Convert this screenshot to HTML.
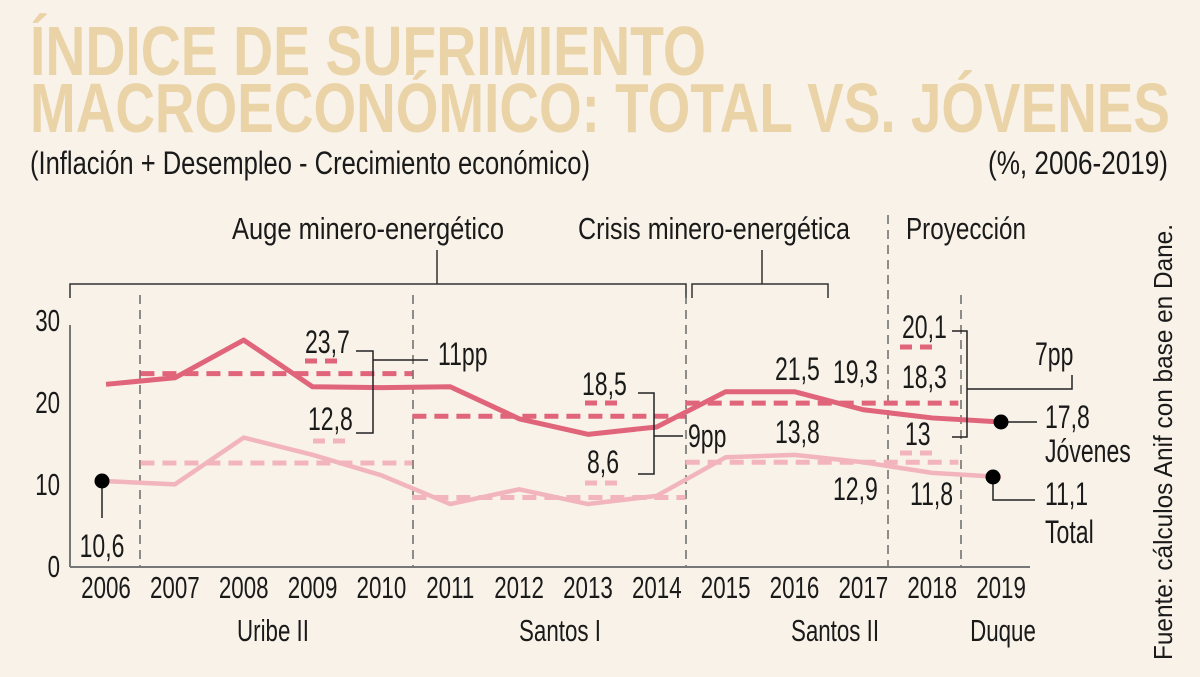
<!DOCTYPE html>
<html><head><meta charset="utf-8"><style>
html,body{margin:0;padding:0;background:#f8f2e8;}
svg{display:block;}
text{font-family:"Liberation Sans Narrow","Liberation Sans",sans-serif;fill:#1a1a1a;}
.t{font-weight:bold;fill:#ebd3a8;font-size:70px;}
</style></head><body>
<svg id="chart" width="1200" height="677" viewBox="0 0 1200 677">
<rect width="1200" height="677" fill="#f8f2e8"/>
<text class="t" x="30" y="75" textLength="676" lengthAdjust="spacingAndGlyphs">ÍNDICE DE SUFRIMIENTO</text>
<text class="t" x="30" y="132" textLength="1140" lengthAdjust="spacingAndGlyphs">MACROECONÓMICO: TOTAL VS. JÓVENES</text>
<text x="30" y="174" font-size="32" textLength="560" lengthAdjust="spacingAndGlyphs">(Inflación + Desempleo - Crecimiento económico)</text>
<text x="1168" y="174" font-size="32" text-anchor="end" textLength="180" lengthAdjust="spacingAndGlyphs">(%, 2006-2019)</text>
<text transform="translate(1172,660) rotate(-90)" font-size="26" textLength="436" lengthAdjust="spacingAndGlyphs">Fuente: cálculos Anif con base en Dane.</text>

<g stroke="#333" stroke-width="1.5" fill="none">
<path d="M70,298 V284 H686 V298 M437,284 V250"/>
<path d="M692,298 V284 H828 V298 M762,284 V250"/>
</g>
<text x="368" y="239" font-size="31" text-anchor="middle" textLength="272" lengthAdjust="spacingAndGlyphs">Auge minero-energético</text>
<text x="714" y="239" font-size="31" text-anchor="middle" textLength="272" lengthAdjust="spacingAndGlyphs">Crisis minero-energética</text>
<text x="966" y="239" font-size="31" text-anchor="middle" textLength="120" lengthAdjust="spacingAndGlyphs">Proyección</text>

<g stroke="#555" stroke-width="1.3" stroke-dasharray="9 6">
<line x1="140" y1="295" x2="140" y2="567"/>
<line x1="413" y1="295" x2="413" y2="567"/>
<line x1="686" y1="295" x2="686" y2="567"/>
<line x1="888" y1="215" x2="888" y2="567"/>
<line x1="961" y1="295" x2="961" y2="567"/>
</g>
<g stroke="#777" stroke-width="2" fill="none">
<line x1="70" y1="325" x2="70" y2="567"/>
<line x1="70" y1="567" x2="1030" y2="567"/>
</g>
<g id="yticks" font-size="31"></g>
<g id="xticks" font-size="31"></g>
<g id="avgs"></g>
<g id="lines"></g>

<g font-size="32">
<line x1="305" y1="361" x2="340" y2="361" stroke="#e0647a" stroke-width="5" stroke-dasharray="12 8"/>
<line x1="313" y1="441" x2="348" y2="441" stroke="#f2b5bd" stroke-width="5" stroke-dasharray="12 8"/>
<line x1="585" y1="403" x2="620" y2="403" stroke="#e0647a" stroke-width="5" stroke-dasharray="12 8"/>
<line x1="585" y1="483" x2="620" y2="483" stroke="#f2b5bd" stroke-width="5" stroke-dasharray="12 8"/>
<line x1="900" y1="347" x2="935" y2="347" stroke="#e0647a" stroke-width="5" stroke-dasharray="12 8"/>
<line x1="900" y1="453" x2="935" y2="453" stroke="#f2b5bd" stroke-width="5" stroke-dasharray="12 8"/>
<text x="305" y="353">23,7</text>
<text x="308" y="430">12,8</text>
<text x="582" y="395">18,5</text>
<text x="587" y="473">8,6</text>
<text x="902" y="338">20,1</text>
<text x="775" y="380">21,5</text>
<text x="833" y="383">19,3</text>
<text x="902" y="388">18,3</text>
<text x="905" y="445">13</text>
<text x="775" y="443">13,8</text>
<text x="833" y="500">12,9</text>
<text x="910" y="505">11,8</text>
<g stroke="#222" stroke-width="1.5" fill="none">
<path d="M356,351 H373 V433 H356 M373,360 H428"/>
<path d="M638,393 H654 V474 H638 M654,436 H683"/>
<path d="M952,331 H967 V437 H952 M967,389 H1072 V375"/>
<path d="M102,481 V518"/>
<path d="M1001,422 H1037"/>
<path d="M993,477 V500 H1035"/>
</g>
<text x="438" y="365">11pp</text>
<text x="688" y="447">9pp</text>
<text x="1035" y="365">7pp</text>
<text x="102" y="557" text-anchor="middle">10,6</text>
<text x="1045" y="428">17,8</text>
<text x="1045" y="462">Jóvenes</text>
<text x="1045" y="505">11,1</text>
<text x="1045" y="543">Total</text>
<circle cx="102" cy="481" r="7.5" fill="#000"/>
<circle cx="1001" cy="422" r="7.5" fill="#000"/>
<circle cx="993" cy="477" r="7.5" fill="#000"/>
</g>
<g font-size="31" text-anchor="middle">
<text x="273" y="641">Uribe II</text>
<text x="560" y="641">Santos I</text>
<text x="835" y="641">Santos II</text>
<text x="1003" y="641">Duque</text>
</g>
</svg>
<script>
const years = [2006,2007,2008,2009,2010,2011,2012,2013,2014,2015,2016,2017,2018,2019];
const jovenes = [22.4,23.2,27.8,22.1,22.0,22.1,18.2,16.3,17.2,21.5,21.5,19.3,18.3,17.8];
const total = [10.6,10.2,15.9,13.8,11.3,7.8,9.6,7.8,8.8,13.5,13.8,12.9,11.6,11.1];
const yTicks = [0,10,20,30];
const avgJovenes = [23.7,18.5,20.1];
const avgTotal = [12.8,8.6,12.9];
const avgStart = [2006.5,2010.45,2014.42];
const avgEnd = [2010.45,2014.42,2018.38];

const NS='http://www.w3.org/2000/svg';
function xs(yr){return 106+(yr-2006)*68.85;}
function ys(v){return 568-v*8.2;}
function mk(tag,attrs,parent){const e=document.createElementNS(NS,tag);for(const k in attrs)e.setAttribute(k,attrs[k]);parent.appendChild(e);return e;}

const yt=document.getElementById('yticks');
yTicks.forEach(v=>{
  const t=mk('text',{x:60,y:ys(v)+9,'text-anchor':'end'},yt);
  t.textContent=String(v);
  
  
});
const xt=document.getElementById('xticks');
years.forEach(yr=>{
  const t=mk('text',{x:xs(yr),y:598,'text-anchor':'middle'},xt);
  t.textContent=String(yr);
  
  
});
const av=document.getElementById('avgs');
avgJovenes.forEach((v,i)=>{
  const l=mk('line',{x1:xs(avgStart[i]),x2:xs(avgEnd[i]),y1:ys(v),y2:ys(v),stroke:'#e0647a','stroke-width':5,'stroke-dasharray':'14 8'},av);
  
  
});
avgTotal.forEach((v,i)=>{
  const l=mk('line',{x1:xs(avgStart[i]),x2:xs(avgEnd[i]),y1:ys(v),y2:ys(v),stroke:'#f2b5bd','stroke-width':5,'stroke-dasharray':'14 8'},av);
  
  
});
const lg=document.getElementById('lines');
const pt=total.map((v,i)=>xs(years[i])+','+ys(v)).join(' ');
const p1=mk('polyline',{points:pt,fill:'none',stroke:'#f2b5bd','stroke-width':4.5,'stroke-linejoin':'round'},lg);


const pj=jovenes.map((v,i)=>xs(years[i])+','+ys(v)).join(' ');
const p2=mk('polyline',{points:pj,fill:'none',stroke:'#e0647a','stroke-width':5,'stroke-linejoin':'round'},lg);



// condense untuned labels to mimic a condensed typeface
document.querySelectorAll('#chart text').forEach(t=>{
  if(!t.hasAttribute('textLength')){
    const w=t.getComputedTextLength();
    if(w>0){t.setAttribute('textLength',(w*0.72).toFixed(1));t.setAttribute('lengthAdjust','spacingAndGlyphs');}
  }
});
</script>
</body></html>
